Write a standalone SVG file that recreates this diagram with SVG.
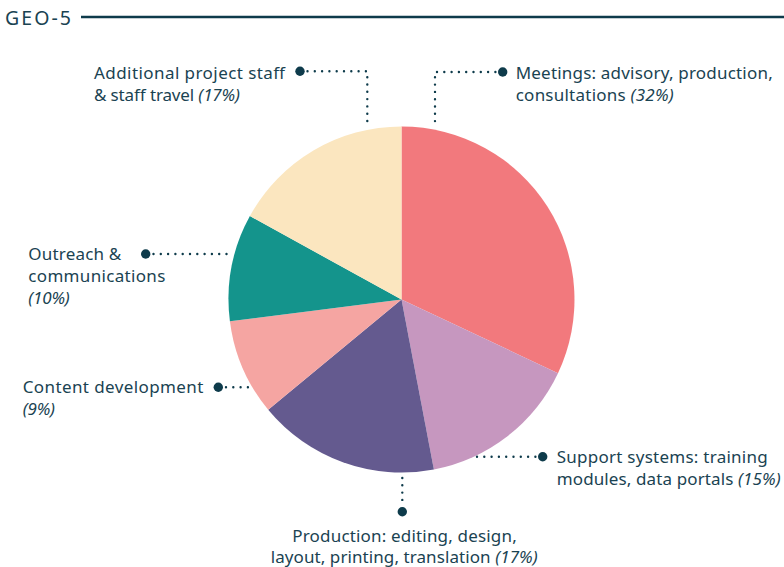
<svg xmlns="http://www.w3.org/2000/svg" width="784" height="567" viewBox="0 0 784 567">
<style>
.t{font-family:"Noto Sans","Open Sans",sans-serif;font-size:17px;fill:#1A4352}
.i{font-style:italic}
.ttl{font-family:"Noto Sans","Open Sans",sans-serif;font-size:19.5px;fill:#1A4352}
.dl{fill:none;stroke:#0E3B4B;stroke-width:2.4;stroke-linecap:round;stroke-dasharray:0 7.3}
.dot{fill:#0E3B4B}
</style>
<rect width="784" height="567" fill="#ffffff"/>
<g id="title">
<text class="ttl" x="5" y="24.5" textLength="66" lengthAdjust="spacing">GEO-5</text>
<line x1="81" y1="17" x2="784" y2="17" stroke="#0E3B4B" stroke-width="2.4"/>
</g>
<g id="pie">
<path id="s-meetings" d="M401.5,299.5 L401.5,126.5 A173,173 0 0 1 558,373.2 Z" fill="#F2797D"/>
<path id="s-support" d="M401.5,299.5 L558,373.2 A173,173 0 0 1 433.9,469.4 Z" fill="#C697BF"/>
<path id="s-production" d="M401.5,299.5 L433.9,469.4 A173,173 0 0 1 268.2,409.8 Z" fill="#645A8F"/>
<path id="s-content" d="M401.5,299.5 L268.2,409.8 A173,173 0 0 1 229.9,321.2 Z" fill="#F5A5A2"/>
<path id="s-outreach" d="M401.5,299.5 L229.9,321.2 A173,173 0 0 1 249.9,216.1 Z" fill="#14948C"/>
<path id="s-additional" d="M401.5,299.5 L249.9,216.1 A173,173 0 0 1 401.5,126.5 Z" fill="#FBE6BF"/>
</g>
<g id="connectors">
<path class="dl" d="M307.5,71.3 H367.3 V128"/>
<circle class="dot" cx="300" cy="71.3" r="4.7"/>
<path class="dl" d="M495.4,72 H435 V128"/>
<circle class="dot" cx="502.7" cy="72" r="4.7"/>
<path class="dl" d="M153.5,254 H233"/>
<circle class="dot" cx="145.7" cy="254" r="4.7"/>
<path class="dl" d="M226,387.3 H248"/>
<circle class="dot" cx="218.3" cy="387.3" r="4.7"/>
<path class="dl" d="M535.4,456.7 H473"/>
<circle class="dot" cx="542.7" cy="456.7" r="4.7"/>
<path class="dl" d="M402.3,478 V504"/>
<circle class="dot" cx="402.3" cy="511.7" r="4.7"/>
</g>
<g id="label-additional">
<text class="t" x="94" y="79" textLength="191" lengthAdjust="spacing">Additional project staff</text>
<text class="t" x="94" y="100.5" textLength="146" lengthAdjust="spacing">&amp; staff travel <tspan class="i">(17%)</tspan></text>
</g>
<g id="label-meetings">
<text class="t" x="515.7" y="79" textLength="257" lengthAdjust="spacing">Meetings: advisory, production,</text>
<text class="t" x="515.7" y="100.5" textLength="158" lengthAdjust="spacing">consultations <tspan class="i">(32%)</tspan></text>
</g>
<g id="label-outreach">
<text class="t" x="28.3" y="259.5" textLength="93" lengthAdjust="spacing">Outreach &amp;</text>
<text class="t" x="28.3" y="281.8" textLength="137" lengthAdjust="spacing">communications</text>
<text class="t i" x="28.3" y="304" textLength="41.5" lengthAdjust="spacing">(10%)</text>
</g>
<g id="label-content">
<text class="t" x="22.7" y="392.7" textLength="180.6" lengthAdjust="spacing">Content development</text>
<text class="t i" x="22.7" y="414.5" textLength="32.3" lengthAdjust="spacing">(9%)</text>
</g>
<g id="label-support">
<text class="t" x="556.7" y="463.3" textLength="211" lengthAdjust="spacing">Support systems: training</text>
<text class="t" x="556.7" y="485" textLength="224" lengthAdjust="spacing">modules, data portals <tspan class="i">(15%)</tspan></text>
</g>
<g id="label-production">
<text class="t" x="292.3" y="541.7" textLength="224.4" lengthAdjust="spacing">Production: editing, design,</text>
<text class="t" x="270.7" y="563.3" textLength="267" lengthAdjust="spacing">layout, printing, translation <tspan class="i">(17%)</tspan></text>
</g>
</svg>
